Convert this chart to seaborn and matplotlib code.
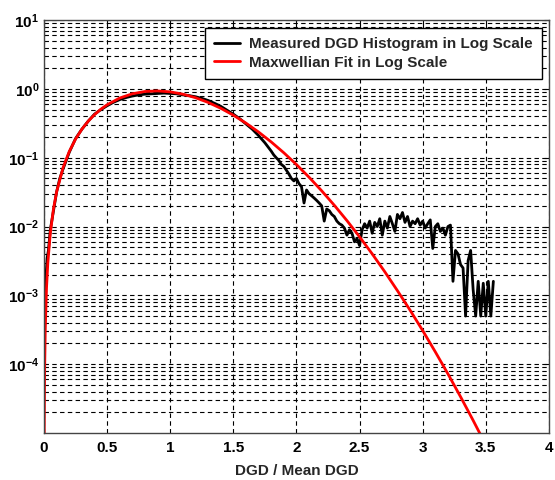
import matplotlib
matplotlib.use("Agg")
import matplotlib.pyplot as plt
import seaborn as sns
import pandas as pd
from matplotlib.ticker import LogLocator, FixedLocator, NullFormatter, FixedFormatter

# ---- data ----
fit_x = [0.001, 0.002, 0.005, 0.01, 0.02, 0.03, 0.05, 0.075, 0.1, 0.15, 0.2, 0.25, 0.3, 0.35,
         0.4, 0.45, 0.5, 0.6, 0.7, 0.8, 0.9, 1.0, 1.1, 1.2, 1.3, 1.4, 1.5, 1.6, 1.7, 1.8,
         1.9, 2.0, 2.1, 2.2, 2.3, 2.4, 2.5, 2.6, 2.7, 2.8, 2.9, 3.0, 3.1, 3.2, 3.3, 3.4, 3.5]
fit_y = [3.24e-6, 1.3e-5, 8.1e-5, 3.24e-4, 1.297e-3, 2.92e-3, 8.08e-3, 0.0181, 0.0320, 0.0709,
         0.1233, 0.1871, 0.2602, 0.3399, 0.4232, 0.5074, 0.5897, 0.7380, 0.8514, 0.9187,
         0.9363, 0.9075, 0.8407, 0.7466, 0.6373, 0.5241, 0.4158, 0.3188, 0.2364, 0.1698,
         0.1181, 0.07965, 0.05209, 0.03306, 0.02038, 0.01220, 0.00709, 0.00401, 0.00220,
         0.00117, 6.10e-4, 3.08e-4, 1.51e-4, 7.23e-5, 3.36e-5, 1.52e-5, 6.7e-6]

hist_x = [0.008, 0.015, 0.025, 0.035, 0.05, 0.075, 0.1, 0.125, 0.15, 0.2, 0.25, 0.3, 0.35,
          0.4, 0.45, 0.5, 0.55, 0.6, 0.65, 0.7, 0.75, 0.8, 0.85, 0.9, 0.95, 1.0, 1.05, 1.1,
          1.15, 1.2, 1.25, 1.3, 1.35, 1.4, 1.45, 1.5, 1.55, 1.6, 1.65, 1.7, 1.75, 1.8,
          1.82, 1.84, 1.86, 1.88, 1.90, 1.92, 1.94, 1.96, 1.98, 2.00, 2.02, 2.04, 2.06,
          2.08, 2.10, 2.12, 2.14, 2.16, 2.18, 2.20, 2.22, 2.24, 2.26, 2.28, 2.30, 2.32,
          2.34, 2.36, 2.38, 2.40, 2.42, 2.44, 2.46, 2.48, 2.50, 2.52, 2.54, 2.56, 2.58,
          2.60, 2.62, 2.64, 2.66, 2.68, 2.70, 2.72, 2.74, 2.76, 2.78, 2.80, 2.82, 2.84,
          2.86, 2.88, 2.90, 2.92, 2.94, 2.96, 2.98, 3.00, 3.02, 3.04, 3.06, 3.08, 3.10,
          3.12, 3.14, 3.16, 3.18, 3.20, 3.22, 3.24, 3.26, 3.28, 3.30, 3.32, 3.34, 3.36,
          3.38, 3.40, 3.42, 3.44, 3.46, 3.48, 3.50, 3.52, 3.54, 3.56]
hist_y = [0.0009, 0.0018, 0.0035, 0.0045, 0.009, 0.017, 0.032, 0.05, 0.068, 0.12, 0.19, 0.26,
          0.34, 0.43, 0.50, 0.57, 0.64, 0.70, 0.75, 0.79, 0.82, 0.84, 0.85, 0.86, 0.87, 0.86,
          0.85, 0.82, 0.80, 0.77, 0.73, 0.68, 0.62, 0.56, 0.49, 0.43, 0.37, 0.31, 0.26, 0.21,
          0.165, 0.125,
          0.11, 0.10, 0.092, 0.08, 0.075, 0.066, 0.058, 0.05, 0.046, 0.05, 0.042, 0.038,
          0.022, 0.034, 0.03, 0.028, 0.026, 0.024, 0.022, 0.020, 0.012, 0.018, 0.017, 0.015,
          0.014, 0.012, 0.011, 0.0105, 0.0095, 0.0075, 0.009, 0.008, 0.006, 0.0067, 0.0053,
          0.009, 0.011, 0.0095, 0.012, 0.008, 0.0115, 0.010, 0.013, 0.0075, 0.012, 0.0095,
          0.014, 0.011, 0.0085, 0.015, 0.013, 0.016, 0.0115, 0.014, 0.010, 0.012, 0.011,
          0.013, 0.0105, 0.012, 0.0095, 0.011, 0.0125, 0.0048, 0.010, 0.011, 0.0085, 0.0095,
          0.0075, 0.010, 0.0105, 0.0016, 0.0045, 0.004, 0.0028, 0.0025, 0.0005, 0.0032,
          0.0045, 0.0012, 0.0005, 0.0016, 0.0005, 0.0015, 0.0005, 0.0016, 0.0005, 0.0016]

x_ticks = [0, 0.5, 1, 1.5, 2, 2.5, 3, 3.5, 4]
x_tick_labels = ["0", "0.5", "1", "1.5", "2", "2.5", "3", "3.5", "4"]
y_ticks = [1e-4, 1e-3, 1e-2, 1e-1, 1e0, 1e1]
y_tick_labels = [r"$10^{-4}$", r"$10^{-3}$", r"$10^{-2}$", r"$10^{-1}$", r"$10^{0}$", r"$10^{1}$"]

sns.set_style("white")
plt.rcParams["font.family"] = ["Liberation Sans", "DejaVu Sans"]
plt.rcParams["font.weight"] = "bold"
plt.rcParams["mathtext.fontset"] = "custom"
plt.rcParams["mathtext.rm"] = "Liberation Sans:bold"
plt.rcParams["mathtext.bf"] = "Liberation Sans:bold"
plt.rcParams["mathtext.it"] = "Liberation Sans:bold"
plt.rcParams["mathtext.default"] = "bf"

fig = plt.figure(figsize=(5.55, 4.8), dpi=100)
ax = fig.add_axes([0.0793, 0.098, 0.9097, 0.860])

hist_df = pd.DataFrame({"x": hist_x, "y": hist_y})
fit_df = pd.DataFrame({"x": fit_x, "y": fit_y})

sns.lineplot(data=hist_df, x="x", y="y", ax=ax, color="black", lw=2.0,
             estimator=None, sort=False, label="Measured DGD Histogram in Log Scale")
sns.lineplot(data=fit_df, x="x", y="y", ax=ax, color="#ff0000", lw=2.0,
             estimator=None, sort=False, label="Maxwellian Fit in Log Scale")

ax.set_yscale("log")
ax.set_xlim(0, 4)
ax.set_ylim(1e-5, 1e1)
ax.xaxis.set_major_locator(FixedLocator(x_ticks))
ax.xaxis.set_major_formatter(FixedFormatter(x_tick_labels))
ax.yaxis.set_major_locator(FixedLocator(y_ticks))
ax.yaxis.set_major_formatter(FixedFormatter(y_tick_labels))
ax.yaxis.set_minor_locator(LogLocator(base=10, subs=range(2, 10), numticks=100))
ax.yaxis.set_minor_formatter(NullFormatter())

ax.grid(True, which="major", axis="both", color="black", linestyle=(0, (4, 3)), lw=0.8)
ax.grid(True, which="minor", axis="y", color="black", linestyle=(0, (4, 3)), lw=0.8)
ax.set_axisbelow(True)

ax.tick_params(axis="both", which="both", direction="in", top=True, right=True,
               labelsize=11, colors="black")
ax.tick_params(axis="x", which="major", pad=6)
ax.tick_params(axis="y", which="minor", length=0)
for lab in ax.get_xticklabels() + ax.get_yticklabels():
    lab.set_fontweight("bold")
for s in ax.spines.values():
    s.set_color("#444444")
    s.set_linewidth(1.0)

ax.set_xlabel("DGD / Mean DGD", fontsize=11, fontweight="bold", labelpad=6)
ax.set_ylabel("")

leg = ax.legend(loc="upper right", bbox_to_anchor=(0.986, 0.981), borderaxespad=0,
                fancybox=False, framealpha=1, edgecolor="black",
                prop={"weight": "bold", "size": 11},
                handlelength=1.7, borderpad=0.6, labelspacing=0.3, handletextpad=0.6)
leg.get_frame().set_linewidth(1.0)

fig.savefig("out.png", dpi=100, facecolor="white")
